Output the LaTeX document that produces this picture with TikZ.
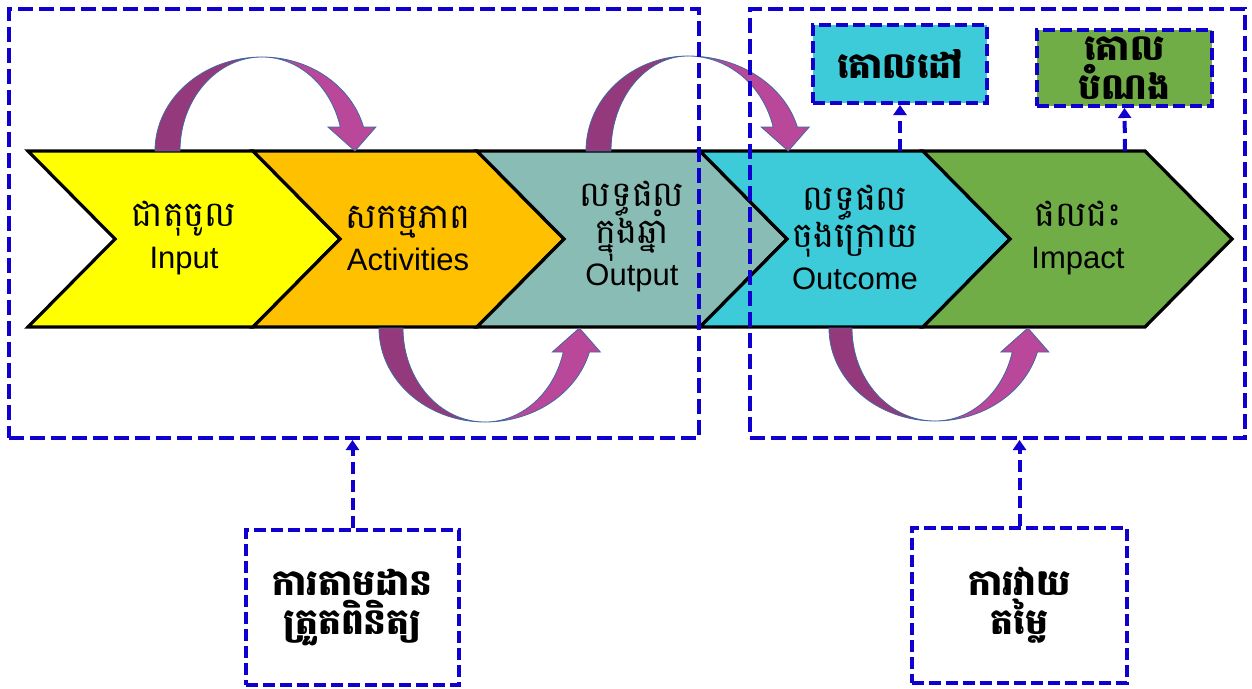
\documentclass[tikz,border=0pt]{standalone}
\usepackage{fontspec}
\setmainfont{Liberation Sans}
\newfontfamily\kh[Script=Khmer]{Battambang}
\usetikzlibrary{arrows.meta}
\definecolor{dblue}{RGB}{16,0,208}
\definecolor{cyel}{RGB}{255,255,0}
\definecolor{corg}{RGB}{255,192,0}
\definecolor{cteal}{RGB}{136,188,180}
\definecolor{ccyan}{RGB}{61,202,217}
\definecolor{cgreen}{RGB}{112,173,71}
\definecolor{pdark}{RGB}{148,58,124}
\definecolor{plight}{RGB}{185,72,155}
\definecolor{pedge}{RGB}{65,105,160}
\newcommand\chevfont{\fontsize{31}{37}\selectfont\lineskiplimit=-\maxdimen}
\newcommand\khr{\kh\fontsize{35}{37}\selectfont}
\newcommand\khbf{\kh\bfseries\fontsize{36}{39}\selectfont\lineskiplimit=-\maxdimen}
\newcommand\chevron[3]{\draw[chev, fill=#3] (#1,151) -- (#2,151) -- ({#2+87},239) -- (#2,327) -- (#1,327) -- ({#1+87},239) -- cycle;}
\newcommand\toparrow[7]{%
 \pgfmathsetmacro\arcte{360-asin(24/#3)}%
 \pgfmathsetmacro\amid{#1+(#6+#7)/2*cos(\arcte)}%
 \draw[parrow, fill=pdark] ({#1-#4},#2) arc[start angle=180,end angle=270,x radius=#4,y radius=#3] arc[start angle=270,end angle=180,x radius=#5,y radius=#3] -- cycle;
 \draw[parrow, fill=plight] (#1,{#2-#3}) arc[start angle=270,end angle=\arcte,x radius=#6,y radius=#3] -- ({\amid+24},{#2-24}) -- ({\amid+3},#2) -- ({\amid-24},{#2-24}) -- ({#1+#7*cos(\arcte)},{#2-24}) arc[start angle=\arcte,end angle=270,x radius=#7,y radius=#3] -- cycle;
}
\newcommand\botarrow[7]{%
 \pgfmathsetmacro\arcte{asin(24/#3)}%
 \pgfmathsetmacro\amid{#1+(#6+#7)/2*cos(\arcte)}%
 \draw[parrow, fill=pdark] ({#1-#4},#2) arc[start angle=180,end angle=90,x radius=#4,y radius=#3] arc[start angle=90,end angle=180,x radius=#5,y radius=#3] -- cycle;
 \draw[parrow, fill=plight] (#1,{#2+#3}) arc[start angle=90,end angle=\arcte,x radius=#6,y radius=#3] -- ({\amid+24},{#2+24}) -- ({\amid+3},#2) -- ({\amid-24},{#2+24}) -- ({#1+#7*cos(\arcte)},{#2+24}) arc[start angle=\arcte,end angle=90,x radius=#7,y radius=#3] -- cycle;
}
\begin{document}
\begin{tikzpicture}[x=1pt,y=-1pt,
  chev/.style={draw=black, line width=3.2pt, line join=miter},
  parrow/.style={draw=pedge, line width=0.8pt},
  lbl/.style={align=center, inner sep=0pt, font=\chevfont},
  dbox/.style={draw=dblue, line width=4pt, dash pattern=on 15pt off 6pt, inner sep=0pt},
  sbox/.style={draw=dblue, line width=4pt, dash pattern=on 12pt off 5pt, inner sep=0pt, align=center, font=\khbf},
  conn/.style={draw=dblue, line width=4pt, dash pattern=on 12pt off 6pt, -{Triangle[length=10pt,width=13pt]}}]
\useasboundingbox (0,0) rectangle (1252,688);
% chevrons
\chevron{28}{253}{cyel}
\chevron{253}{477}{corg}
\chevron{477}{700}{cteal}
\chevron{700}{923}{ccyan}
\chevron{923}{1145}{cgreen}
% curved arrows
\toparrow{262}{151}{94}{107}{82}{105}{81}
\botarrow{485}{328}{94}{106}{82}{108}{81}
\toparrow{688}{151}{95}{102}{77}{113}{88}
\botarrow{935}{328}{93}{106}{83}{106}{80}
% chevron labels
\node[lbl] (c1) at (184,238) {{\khr ជាតុចូល}\\[5pt]Input};
\node[lbl] (c2) at (408,238) {{\khr សកម្មភាព}\\[5pt]Activities};
\node[lbl] (c3) at (632,237) {{\khr លទ្ធផល}\\{\khr ក្នុងឆ្នាំ}\\[5pt]Output};
\node[lbl] (c4) at (855,237) {{\khr លទ្ធផល}\\{\khr ចុងក្រោយ}\\[5pt]Outcome};
\node[lbl] (c5) at (1078,238) {{\khr ផលជះ}\\[5pt]Impact};
% top boxes
\node[sbox, fill=ccyan, minimum width=174pt, minimum height=78pt] (goal) at (900,64) {គោលដៅ};
\node[sbox, fill=cgreen, minimum width=175pt, minimum height=76pt] (obj) at (1124.5,68) {គោល\\បំណង};
\coordinate (o4) at (900,151);
\coordinate (o5) at (1125,151);
\draw[conn] (o4) -- (goal.south);
\draw[conn] (o5) -- (obj.south);
% big boxes
\node[dbox, minimum width=690pt, minimum height=429pt] (lbox) at (354,223.5) {};
\node[dbox, minimum width=495pt, minimum height=429pt] (rbox) at (997.5,223.5) {};
% bottom boxes
\node[sbox, minimum width=213pt, minimum height=155pt] (mon) at (352.5,607.5) {ការតាមដាន\\ត្រួតពិនិត្យ};
\node[sbox, minimum width=215pt, minimum height=155pt] (eva) at (1019.5,605.5) {ការវាយ\\តម្លៃ};
\draw[conn] (mon.north) -- (mon.north |- lbox.south);
\draw[conn] (eva.north) -- (eva.north |- rbox.south);
\end{tikzpicture}
\end{document}
